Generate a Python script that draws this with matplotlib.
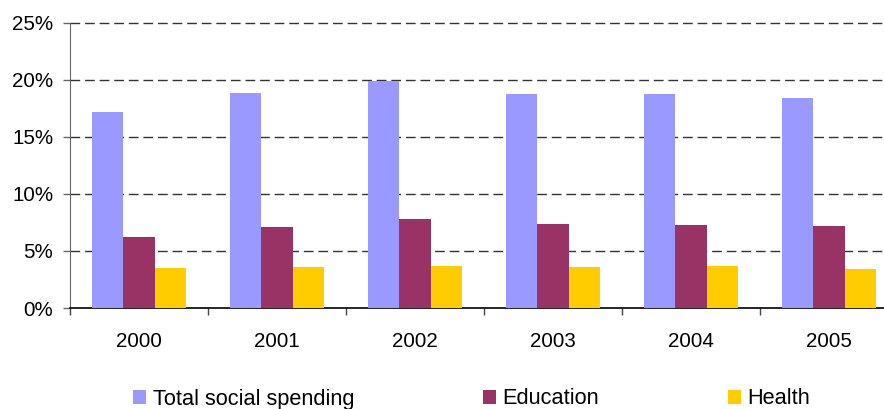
import numpy as np
import matplotlib as mpl
mpl.use('Agg')
import matplotlib.pyplot as plt

plt.rcParams['font.family'] = ['Liberation Sans', 'DejaVu Sans']

years = ['2000', '2001', '2002', '2003', '2004', '2005']
total = [17.2, 18.85, 19.9, 18.75, 18.75, 18.4]
education = [6.25, 7.1, 7.8, 7.35, 7.27, 7.2]
health = [3.5, 3.6, 3.7, 3.6, 3.7, 3.45]
yticks = [0, 5, 10, 15, 20, 25]
ytick_labels = ['0%', '5%', '10%', '15%', '20%', '25%']

fig = plt.figure(figsize=(8.84, 4.09), dpi=100)
ax = fig.add_axes([70/884, 1-308/409, 828/884, (308-22.7)/409])

x = np.arange(len(years))
w = 0.225
ax.bar(x - w, total, w, color='#9999FF', label='Total social spending', zorder=3)
ax.bar(x, education, w, color='#993366', label='Education', zorder=3)
ax.bar(x + w, health, w, color='#FFCC00', label='Health', zorder=3)

ax.set_xlim(-0.5, len(years) - 0.5)
ax.set_ylim(0, 25)
ax.set_yticks(yticks)
ax.set_yticklabels(ytick_labels)
ax.set_xticks(x)
ax.set_xticklabels(years)
ax.set_xticks(np.arange(len(years) + 1) - 0.5, minor=True)

for yv in yticks[1:]:
    ax.axhline(yv, color='#333333', lw=1, dashes=(7, 3.5), zorder=1, clip_on=False)

ax.tick_params(axis='x', which='major', length=0, pad=17, labelsize=14.8)
ax.tick_params(axis='x', which='minor', length=5, width=1, color='#444444', direction='out')
ax.tick_params(axis='y', length=5, width=1, color='#666666', pad=7, labelsize=14.8)

for s in ['top', 'right']:
    ax.spines[s].set_visible(False)
ax.spines['left'].set_color('#666666')
ax.spines['bottom'].set_color('black')
ax.spines['bottom'].set_linewidth(1.2)

fig.legend(loc='center', bbox_to_anchor=(471.5/884, 1-399/409), ncol=3, frameon=False,
           fontsize=15.7, handlelength=0.6, handleheight=0.6, handletextpad=0.3,
           columnspacing=5.9, borderpad=0)

fig.savefig('out.png', dpi=100)
